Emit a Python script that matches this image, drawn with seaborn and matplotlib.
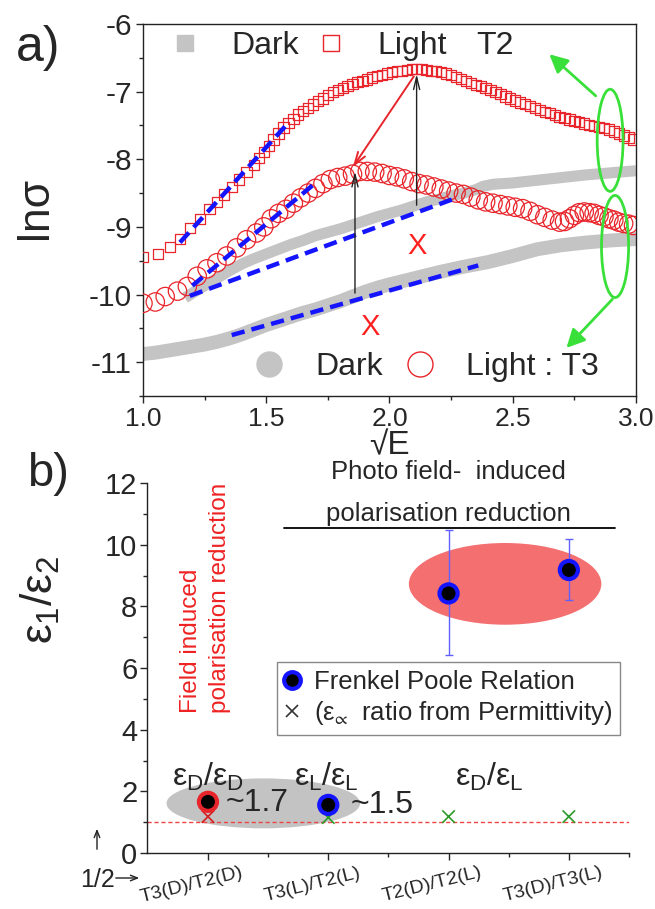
import numpy as np
import pandas as pd
import matplotlib
matplotlib.use("Agg")
import matplotlib.pyplot as plt
import seaborn as sns
from matplotlib.patches import Ellipse
from matplotlib.lines import Line2D
from matplotlib.ticker import MultipleLocator, FixedLocator
from matplotlib.transforms import ScaledTranslation

# ---------------- data: panel a ----------------
t2_light_x = [1.00, 1.06, 1.11, 1.15, 1.19, 1.23, 1.27, 1.30, 1.33, 1.36, 1.39, 1.42, 1.45, 1.47, 1.49,
              1.51, 1.53, 1.55, 1.57, 1.59, 1.61, 1.63, 1.65, 1.67, 1.69, 1.71, 1.73, 1.75, 1.77, 1.79,
              1.81, 1.83, 1.85, 1.87, 1.89, 1.91, 1.93, 1.95, 1.97, 1.99, 2.01, 2.03, 2.05, 2.07, 2.09,
              2.11, 2.13, 2.15, 2.17, 2.19, 2.21, 2.23, 2.25, 2.27, 2.29, 2.31, 2.33, 2.35, 2.37, 2.39,
              2.41, 2.43, 2.45, 2.47, 2.49, 2.51, 2.53, 2.55, 2.57, 2.59, 2.61, 2.63, 2.65, 2.67, 2.69,
              2.71, 2.73, 2.75, 2.77, 2.79, 2.81, 2.83, 2.85, 2.87, 2.89, 2.91, 2.93, 2.95, 2.97, 2.99]
t2_light_y = [-9.45, -9.40, -9.30, -9.18, -9.02, -8.88, -8.74, -8.63, -8.52, -8.41, -8.30, -8.19, -8.08, -7.98, -7.89,
              -7.80, -7.71, -7.62, -7.53, -7.46, -7.40, -7.34, -7.29, -7.24, -7.19, -7.14, -7.10, -7.05, -7.01, -6.98,
              -6.95, -6.92, -6.89, -6.86, -6.84, -6.82, -6.79, -6.77, -6.75, -6.73, -6.71, -6.70, -6.69, -6.68, -6.67,
              -6.67, -6.67, -6.68, -6.69, -6.70, -6.71, -6.73, -6.75, -6.78, -6.81, -6.84, -6.87, -6.90, -6.92, -6.95,
              -6.98, -7.01, -7.04, -7.07, -7.10, -7.13, -7.16, -7.18, -7.21, -7.24, -7.27, -7.30, -7.32, -7.35, -7.37,
              -7.39, -7.41, -7.43, -7.45, -7.47, -7.49, -7.51, -7.52, -7.54, -7.56, -7.59, -7.62, -7.65, -7.68, -7.71]

t3_light_x = [1.00, 1.05, 1.09, 1.14, 1.18, 1.22, 1.26, 1.30, 1.34, 1.38, 1.42, 1.46, 1.49, 1.52, 1.55,
              1.58, 1.61, 1.64, 1.67, 1.70, 1.73, 1.76, 1.79, 1.82, 1.85, 1.88, 1.91, 1.94, 1.97, 2.00,
              2.03, 2.06, 2.09, 2.12, 2.15, 2.18, 2.21, 2.24, 2.27, 2.30, 2.33, 2.36, 2.39, 2.42, 2.45,
              2.48, 2.51, 2.54, 2.57, 2.60, 2.63, 2.66, 2.69, 2.71, 2.73, 2.75, 2.77, 2.79, 2.81, 2.83,
              2.85, 2.87, 2.89, 2.91, 2.93, 2.95, 2.97, 2.99]
t3_light_y = [-10.13, -10.11, -10.03, -9.95, -9.88, -9.73, -9.62, -9.53, -9.43, -9.31, -9.19, -9.09, -9.00, -8.88, -8.80,
              -8.74, -8.65, -8.57, -8.50, -8.43, -8.36, -8.30, -8.27, -8.25, -8.22, -8.18, -8.18, -8.19, -8.21, -8.24,
              -8.26, -8.29, -8.33, -8.36, -8.38, -8.41, -8.44, -8.47, -8.50, -8.52, -8.56, -8.60, -8.63, -8.65, -8.67,
              -8.69, -8.71, -8.73, -8.77, -8.82, -8.86, -8.90, -8.93, -8.92, -8.88, -8.83, -8.79, -8.78, -8.79, -8.80,
              -8.83, -8.85, -8.88, -8.90, -8.93, -8.95, -8.96, -8.98]

t2_dark_x = [1.17, 1.20, 1.25, 1.30, 1.35, 1.40, 1.45, 1.50, 1.55, 1.60, 1.65, 1.70, 1.75, 1.80, 1.85, 1.90,
             1.95, 2.00, 2.05, 2.10, 2.15, 2.20, 2.25, 2.30, 2.35, 2.38, 2.42, 2.50, 2.60, 2.70, 2.80, 2.90, 3.00]
t2_dark_y = [-10.05, -9.98, -9.87, -9.76, -9.65, -9.55, -9.47, -9.40, -9.33, -9.26, -9.20, -9.13, -9.08, -9.03, -8.97, -8.91,
             -8.85, -8.80, -8.75, -8.69, -8.63, -8.59, -8.54, -8.50, -8.45, -8.40, -8.37, -8.35, -8.31, -8.27, -8.23, -8.20, -8.17]

t3_dark_x = [1.00, 1.05, 1.10, 1.15, 1.20, 1.25, 1.30, 1.35, 1.40, 1.45, 1.50, 1.55, 1.60, 1.65, 1.70, 1.75,
             1.80, 1.85, 1.90, 1.95, 2.00, 2.10, 2.20, 2.30, 2.40, 2.50, 2.60, 2.70, 2.80, 2.90, 3.00]
t3_dark_y = [-10.88, -10.86, -10.83, -10.80, -10.77, -10.74, -10.70, -10.65, -10.59, -10.52, -10.45, -10.39, -10.33, -10.27, -10.22, -10.16,
             -10.10, -10.03, -9.96, -9.90, -9.85, -9.76, -9.67, -9.59, -9.52, -9.43, -9.33, -9.27, -9.23, -9.20, -9.18]

fit_t2_light_x = [1.15, 1.59]
fit_t2_light_y = [-9.23, -7.46]
fit_t3_light_x = [1.20, 1.69]
fit_t3_light_y = [-9.87, -8.38]
fit_t2_dark_x = [1.19, 2.28]
fit_t2_dark_y = [-10.02, -8.56]
fit_t3_dark_x = [1.36, 2.36]
fit_t3_dark_y = [-10.60, -9.57]

# ---------------- data: panel b ----------------
categories = ["T3(D)/T2(D)", "T3(L)/T2(L)", "T2(D)/T2(L)", "T3(D)/T3(L)"]
fp_ratio = [1.66, 1.56, 8.42, 9.18]
fp_err_low = [1.66, 1.56, 6.42, 8.21]
fp_err_high = [1.66, 1.56, 10.48, 10.20]
perm_ratio = [1.18, 1.15, 1.18, 1.18]

RED = "#e8252b"
GRAY = "#c4c4c4"
BLUE = "#1414ff"
GREEN = "#3ae03a"

sns.set_style("ticks")
plt.rcParams["font.family"] = ["Liberation Sans", "DejaVu Sans"]
plt.rcParams["mathtext.fontset"] = "custom"
plt.rcParams["mathtext.rm"] = "Liberation Sans"
plt.rcParams["mathtext.it"] = "Liberation Sans"
plt.rcParams["mathtext.bf"] = "Liberation Sans"
plt.rcParams["axes.linewidth"] = 1.0

fig = plt.figure(figsize=(6.55, 9.09), dpi=100)
ax1 = fig.add_axes([0.2183, 0.5644, 0.7527, 0.4092])
ax2 = fig.add_axes([0.2244, 0.0616, 0.7359, 0.4070])

# ================= panel a =================
sns.lineplot(x=t3_dark_x, y=t3_dark_y, color=GRAY, lw=10, ax=ax1, sort=False,
             estimator=None, solid_capstyle="butt", zorder=1)
sns.lineplot(x=t2_dark_x, y=t2_dark_y, color=GRAY, lw=8, ax=ax1, sort=False,
             estimator=None, solid_capstyle="butt", zorder=1)
sns.scatterplot(x=t2_light_x, y=t2_light_y, marker="s", s=55, facecolor="none",
                edgecolor=RED, linewidth=0.9, ax=ax1, zorder=3)
sns.scatterplot(x=t3_light_x, y=t3_light_y, marker="o", s=175, facecolor="none",
                edgecolor=RED, linewidth=0.9, ax=ax1, zorder=3)
n_before = len(ax1.lines)
for fx, fy in [(fit_t2_light_x, fit_t2_light_y), (fit_t3_light_x, fit_t3_light_y),
               (fit_t2_dark_x, fit_t2_dark_y), (fit_t3_dark_x, fit_t3_dark_y)]:
    sns.lineplot(x=fx, y=fy, color=BLUE, lw=3.2, ax=ax1, sort=False, estimator=None, zorder=4)
for ln in ax1.lines[n_before:]:
    ln.set_dashes([3.0, 1.6])

ax1.set_xlim(1.0, 3.0)
ax1.set_ylim(-11.5, -6.0)
ax1.set_xticks([1.0, 1.5, 2.0, 2.5, 3.0], ["1.0", "1.5", "2.0", "2.5", "3.0"])
ax1.set_yticks([-11, -10, -9, -8, -7, -6], ["-11", "-10", "-9", "-8", "-7", "-6"])
ax1.xaxis.set_minor_locator(MultipleLocator(0.25))
ax1.yaxis.set_minor_locator(MultipleLocator(0.5))
ax1.tick_params(axis="x", which="major", direction="out", length=5, width=1, labelsize=19, pad=3)
ax1.tick_params(axis="y", which="major", direction="out", length=5, width=1, labelsize=21.5, pad=3)
ax1.tick_params(axis="both", which="minor", direction="out", length=3, width=1)
for sp in ax1.spines.values():
    sp.set_visible(True)
    sp.set_color("#222222")

ax1.set_xlabel("\u221aE", fontsize=24)
ax1.xaxis.set_label_coords(0.5, -0.133)
ax1.xaxis.label.set_va("center")
ax1.set_ylabel("ln\u03c3", fontsize=32)
ax1.yaxis.set_label_coords(-0.219, 0.505)
ax1.yaxis.label.set_va("center")

# arrows / annotations
ax1.annotate("", xy=(1.86, -8.14), xytext=(1.86, -10.02),
             arrowprops=dict(arrowstyle="->,head_length=0.9,head_width=0.22", color="#222222", lw=1.0), zorder=5)
ax1.annotate("", xy=(2.11, -6.70), xytext=(2.11, -8.72),
             arrowprops=dict(arrowstyle="->,head_length=0.9,head_width=0.22", color="#222222", lw=1.0), zorder=5)
ax1.annotate("", xy=(1.845, -8.15), xytext=(2.105, -6.74),
             arrowprops=dict(arrowstyle="->,head_length=0.9,head_width=0.3", color=RED, lw=1.4), zorder=5)
ax1.text(2.11, -9.28, "X", color="#ff2020", fontsize=21, ha="center", va="center", zorder=5)
ax1.text(1.92, -10.48, "X", color="#ff2020", fontsize=21, ha="center", va="center", zorder=5)

ax1.add_patch(Ellipse((2.895, -7.72), 0.105, 1.51, fill=False, ec=GREEN, lw=2.0, zorder=6))
ax1.add_patch(Ellipse((2.915, -9.29), 0.11, 1.51, fill=False, ec=GREEN, lw=2.0, zorder=6))
ax1.annotate("", xy=(2.64, -6.42), xytext=(2.845, -7.09),
             arrowprops=dict(arrowstyle="-|>,head_length=1.1,head_width=0.55", color=GREEN, lw=2.0), zorder=6)
ax1.annotate("", xy=(2.71, -10.82), xytext=(2.912, -10.04),
             arrowprops=dict(arrowstyle="-|>,head_length=1.1,head_width=0.55", color=GREEN, lw=2.0), zorder=6)

# legends
h_up = [Line2D([], [], marker="s", ls="", color=GRAY, ms=12),
        Line2D([], [], marker="s", ls="", mfc="none", mec=RED, mew=1.0, ms=12)]
leg1 = ax1.legend(h_up, ["Dark", "Light"], ncol=2, loc="center left", bbox_to_anchor=(0.053, 0.941),
                  frameon=False, fontsize=23, handlelength=1.0, handletextpad=0.95,
                  columnspacing=0.5, borderpad=0, borderaxespad=0)
ax1.add_artist(leg1)
ax1.text(0.675, 0.941, "T2", transform=ax1.transAxes, fontsize=23, ha="left", va="center")
h_lo = [Line2D([], [], marker="o", ls="", color=GRAY, ms=18),
        Line2D([], [], marker="o", ls="", mfc="none", mec=RED, mew=1.0, ms=18)]
ax1.legend(h_lo, ["Dark", "Light : T3"], ncol=2, loc="center left", bbox_to_anchor=(0.223, 0.078),
           frameon=False, fontsize=23, handlelength=1.0, handletextpad=0.95,
           columnspacing=0.66, borderpad=0, borderaxespad=0)

fig.text(38 / 655, 1 - 48 / 909, "a)", fontsize=36, ha="center", va="center")
fig.text(48 / 655, 1 - 474 / 909, "b)", fontsize=34, ha="center", va="center")

# ================= panel b =================
pos = np.arange(len(categories))
dfb = pd.DataFrame({"cat": categories, "pos": pos, "fp": fp_ratio, "perm": perm_ratio,
                    "lo": fp_err_low, "hi": fp_err_high})

ax2.add_patch(Ellipse((0.46, 1.61), 1.61, 1.62, color="#b9b9b9", alpha=0.85, lw=0, zorder=1))
ax2.add_patch(Ellipse((2.47, 8.73), 1.60, 2.65, color="#f36f70", lw=0, zorder=1))

ax2.axhline(1.0, color="#ee4444", lw=1.0, ls=(0, (3, 2)), zorder=2)

big = dfb[dfb["hi"] > dfb["lo"]]
ax2.errorbar(big["pos"], big["fp"], yerr=[big["fp"] - big["lo"], big["hi"] - big["fp"]],
             fmt="none", ecolor="#6060ff", elinewidth=1.0, capsize=3, zorder=3)

sns.scatterplot(data=dfb, x="pos", y="perm", marker="x", s=80, color=["#d42020", "#2a9a2a", "#2a9a2a", "#2a9a2a"],
                linewidth=1.2, ax=ax2, zorder=4, legend=False)
edge_cols = [RED, BLUE, BLUE, BLUE]
sns.scatterplot(data=dfb, x="pos", y="fp", marker="o", s=170, color="black",
                edgecolor=edge_cols, linewidth=3.0, ax=ax2, zorder=5, legend=False)

ax2.set_xlim(-0.507, 3.5)
ax2.set_ylim(0, 12)
ax2.set_xticks(pos, categories, rotation=14, ha="center", fontsize=14)
ax2.xaxis.set_minor_locator(FixedLocator([0.5, 1.5, 2.5, 3.5]))
ax2.yaxis.set_major_locator(MultipleLocator(2))
ax2.yaxis.set_minor_locator(MultipleLocator(1))
ax2.tick_params(axis="y", which="major", labelsize=21, length=5, width=1, direction="out", pad=2)
ax2.tick_params(axis="x", which="major", length=5, width=1, direction="out", pad=3)
ax2.tick_params(axis="both", which="minor", length=3, width=1, direction="out")
ax2.spines["top"].set_visible(False)
ax2.spines["right"].set_visible(False)
for sp in ax2.spines.values():
    sp.set_color("#222222")
ax2.set_xlabel("")
ax2.set_ylabel("$\u03b5_1/\u03b5_2$", fontsize=32)
ax2.yaxis.set_label_coords(-0.222, 0.684)
ax2.yaxis.label.set_va("center")

# annotations panel b
ax2.plot([0.63, 3.38], [10.54, 10.54], color="black", lw=1.3, zorder=3)
ax2.text(2.0, 12.35, "Photo field-  induced", fontsize=18.5, ha="center", va="center", clip_on=False)
ax2.text(2.0, 11.0, "polarisation reduction", fontsize=18.5, ha="center", va="center")
ax2.text(-0.02, 4.54, "Field induced\npolarisation reduction", color="#ee2222", fontsize=17.5,
         rotation=90, ha="center", va="bottom", multialignment="left", linespacing=1.4)

ax2.text(0.0, 2.47, "$\u03b5_D/\u03b5_D$", fontsize=23, ha="center", va="center")
ax2.text(0.98, 2.47, "$\u03b5_L/\u03b5_L$", fontsize=23, ha="center", va="center")
ax2.text(2.34, 2.47, "$\u03b5_D/\u03b5_L$", fontsize=23, ha="center", va="center")
ax2.text(0.15, 1.62, "~1.7", fontsize=23, ha="left", va="center")
ax2.text(1.19, 1.56, "~1.5", fontsize=23, ha="left", va="center")

h_b = [Line2D([], [], marker="o", ls="", mfc="black", mec=BLUE, mew=3.0, ms=12),
       Line2D([], [], marker="x", ls="", color="#333333", mew=1.2, ms=9)]
ax2.legend(h_b, ["Frenkel Poole Relation", "($\u03b5_{\u221d}$  ratio from Permittivity)"],
           loc="upper left", bbox_to_anchor=(0.27, 0.516), fontsize=18.5, frameon=True,
           fancybox=False, edgecolor="#888888", framealpha=1, handlelength=0.55,
           handletextpad=0.6, borderpad=0.3, labelspacing=0.22, borderaxespad=0)

# "1/2 ->" and up arrow below panel b
fig.text(97 / 655, 1 - 880 / 909, "1/2", fontsize=18, ha="center", va="center")
ax2.annotate("", xy=(142, 909 - 878), xytext=(113, 909 - 878), xycoords="figure pixels",
             textcoords="figure pixels",
             arrowprops=dict(arrowstyle="->,head_length=0.5,head_width=0.2", color="#222222", lw=1.0),
             annotation_clip=False)
ax2.annotate("", xy=(97, 909 - 826), xytext=(97, 909 - 852), xycoords="figure pixels",
             textcoords="figure pixels",
             arrowprops=dict(arrowstyle="->,head_length=0.5,head_width=0.2", color="#222222", lw=1.0),
             annotation_clip=False)

# shift category labels slightly left, as in the reference
fig.canvas.draw()
shift = ScaledTranslation(-0.16, 0, fig.dpi_scale_trans)
for lab in ax2.get_xticklabels():
    lab.set_transform(lab.get_transform() + shift)

fig.savefig("out.png", dpi=100)
